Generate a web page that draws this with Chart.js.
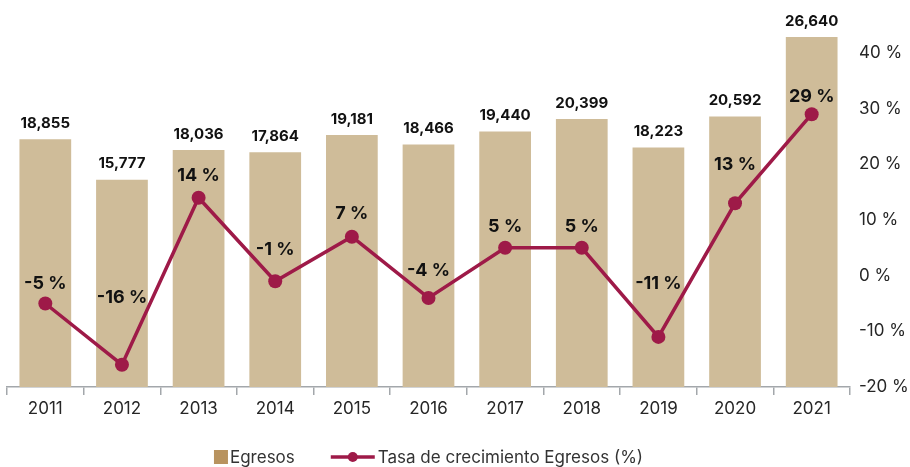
<!DOCTYPE html>
<html>
<head>
<meta charset="utf-8">
<script src="https://cdn.jsdelivr.net/npm/chart.js@4.4.1/dist/chart.umd.min.js"></script>
<style>
  html, body { margin: 0; padding: 0; background: #ffffff; }
  #wrap { width: 910px; height: 467px; }
</style>
</head>
<body>
<div id="wrap"><canvas id="c" width="910" height="467"></canvas></div>
<script>
// Egresos por año y su tasa de crecimiento anual
const years = ['2011', '2012', '2013', '2014', '2015', '2016', '2017', '2018', '2019', '2020', '2021'];
const egresos = [18855, 15777, 18036, 17864, 19181, 18466, 19440, 20399, 18223, 20592, 26640];
const tasa = [-5, -16, 14, -1, 7, -4, 5, 5, -11, 13, 29];
const pctTicks = [-20, -10, 0, 10, 20, 30, 40];

// how far above each point its percentage label sits (px)
const pctLabelLift = [20, 67, 22, 32, 23, 27, 21, 21, 53, 39, 18];

const FONT = 'Inter, "Open Sans", sans-serif';
const BAR_COLOR = '#cfbc99';
const BAR_KEY_COLOR = '#b8935f';
const LINE_COLOR = '#9e1a48';

const valueLabels = {
  id: 'valueLabels',
  afterDatasetsDraw(chart) {
    const ctx = chart.ctx;
    ctx.save();
    ctx.textAlign = 'center';
    ctx.textBaseline = 'middle';
    ctx.fillStyle = '#111111';
    ctx.font = '700 15px ' + FONT;
    chart.getDatasetMeta(0).data.forEach((bar, i) => {
      ctx.fillText(egresos[i].toLocaleString('en-US'), bar.x, bar.y - 16);
    });
    ctx.font = '700 18px ' + FONT;
    chart.getDatasetMeta(1).data.forEach((pt, i) => {
      ctx.fillText(Math.round(tasa[i]) + ' %', pt.x, pt.y - pctLabelLift[i]);
    });
    ctx.restore();
  }
};

// legend row under the axis: swatch for the bars, line-with-dot for the rate
const bottomLegend = {
  id: 'bottomLegend',
  afterDraw(chart) {
    const ctx = chart.ctx;
    const area = chart.chartArea;
    const y = 457;
    const t1 = chart.data.datasets[0].label;
    const t2 = chart.data.datasets[1].label;
    ctx.save();
    ctx.font = '400 17px ' + FONT;
    ctx.textBaseline = 'middle';
    ctx.textAlign = 'left';
    const w1 = ctx.measureText(t1).width;
    const w2 = ctx.measureText(t2).width;
    const total = 14 + 2 + w1 + 36 + 44 + 3 + w2;
    let x = (area.left + area.right) / 2 - total / 2;
    ctx.fillStyle = BAR_KEY_COLOR;
    ctx.fillRect(x, y - 7, 14, 14);
    x += 16;
    ctx.fillStyle = '#333333';
    ctx.fillText(t1, x, y + 1);
    x += w1 + 36;
    ctx.strokeStyle = LINE_COLOR;
    ctx.lineWidth = 3.5;
    ctx.beginPath();
    ctx.moveTo(x, y);
    ctx.lineTo(x + 44, y);
    ctx.stroke();
    ctx.fillStyle = LINE_COLOR;
    ctx.beginPath();
    ctx.arc(x + 22, y, 5, 0, Math.PI * 2);
    ctx.fill();
    x += 47;
    ctx.fillStyle = '#333333';
    ctx.fillText(t2, x, y + 1);
    ctx.restore();
  }
};

new Chart(document.getElementById('c'), {
  data: {
    labels: years,
    datasets: [
      {
        type: 'bar',
        label: 'Egresos',
        data: egresos,
        yAxisID: 'y',
        backgroundColor: BAR_COLOR,
        barPercentage: 0.675,
        categoryPercentage: 1,
        order: 2
      },
      {
        type: 'line',
        label: 'Tasa de crecimiento Egresos (%)',
        data: tasa,
        yAxisID: 'y1',
        borderColor: LINE_COLOR,
        backgroundColor: LINE_COLOR,
        borderWidth: 3.5,
        pointRadius: 7,
        pointHoverRadius: 7,
        pointBackgroundColor: LINE_COLOR,
        pointBorderWidth: 0,
        tension: 0,
        order: 1
      }
    ]
  },
  options: {
    responsive: false,
    animation: false,
    layout: { padding: { left: 1, right: 0, top: 10, bottom: 40 } },
    plugins: {
      legend: { display: false },
      tooltip: { enabled: false },
      title: { display: false }
    },
    scales: {
      x: {
        offset: true,
        grid: {
          offset: true,
          display: true,
          drawOnChartArea: false,
          drawTicks: true,
          tickLength: 8,
          color: '#a3a7ab',
          lineWidth: 1.5
        },
        border: { display: true, color: '#a3a7ab', width: 1.5 },
        ticks: {
          color: '#262626',
          font: { family: FONT, size: 17 },
          padding: 4,
          maxRotation: 0
        },
        afterFit(scale) {
          scale.height = 40;
          scale.paddingLeft = 0;
          scale.paddingRight = 0;
        }
      },
      y: {
        display: false,
        min: 0,
        max: 28695
      },
      y1: {
        position: 'right',
        min: -20,
        max: 47.72,
        grid: { display: false, drawTicks: false },
        border: { display: false },
        afterBuildTicks(scale) {
          scale.ticks = pctTicks.map(v => ({ value: v }));
        },
        ticks: {
          color: '#262626',
          font: { family: FONT, size: 17 },
          padding: 9,
          callback: v => v + ' %'
        },
        afterFit(scale) {
          scale.width = 60;
          scale.paddingTop = 0;
          scale.paddingBottom = 0;
        }
      }
    }
  },
  plugins: [valueLabels, bottomLegend]
});
</script>
</body>
</html>
